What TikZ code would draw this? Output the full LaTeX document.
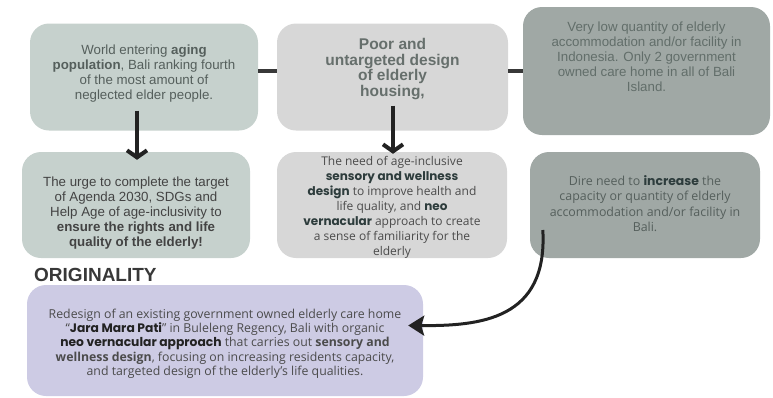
\documentclass[tikz,border=0pt]{standalone}
\usepackage{fontspec}
\setmainfont{Liberation Sans}
\newfontfamily\opensans{Open Sans}
\newfontfamily\popfont{Poppins}
\usetikzlibrary{arrows.meta,positioning,calc}

\definecolor{sage}{RGB}{198,209,205}
\definecolor{lightgrey}{RGB}{215,215,215}
\definecolor{slate}{RGB}{160,168,165}
\definecolor{lavender}{RGB}{205,203,228}
\definecolor{ink}{RGB}{34,34,34}
\definecolor{sagetext}{RGB}{85,95,92}
\definecolor{greytext}{RGB}{75,75,75}
\definecolor{slatetext}{RGB}{98,110,106}
\definecolor{darktext}{RGB}{45,60,60}

\newcommand{\wide}[1]{{\popfont\bfseries #1}}

\begin{document}
\begin{tikzpicture}[x=1pt,y=-1pt,
      every node/.style={on grid},
      sagebox/.style={fill=sage,rounded corners=19pt,inner sep=0pt},
      greybox/.style={fill=lightgrey,rounded corners=19pt,inner sep=0pt},
      slatebox/.style={fill=slate,rounded corners=19pt,inner sep=0pt},
      lavbox/.style={fill=lavender,rounded corners=19pt,inner sep=0pt},
      txt/.style={align=center,inner sep=0pt,font=\fontsize{13.3}{15}\selectfont},
      softtxt/.style={align=center,inner sep=0pt,font=\opensans\fontsize{12}{15}\selectfont},
      link/.style={draw=ink!90,line width=3.5pt},
      down/.style={draw=ink,line width=4pt,-{Straight Barb[length=7pt,width=20pt]}},
      swing/.style={draw=ink,line width=3pt,-{Stealth[length=16pt,width=20pt,inset=3pt]}}
    ]
    \useasboundingbox (0,0) rectangle (773,397);

    % top row
    \node[sagebox,minimum width=228pt,minimum height=107pt] (b1) at (144,77) {};
    \node[greybox,minimum width=231pt,minimum height=107pt,right=248.5pt of b1] (b2) {};
    \node[slatebox,minimum width=247pt,minimum height=128pt] (b3) at (646.5,71) {};

    % second row
    \node[sagebox,minimum width=228pt,minimum height=106pt] (b4) at (136,205) {};
    \node[greybox,minimum width=230pt,minimum height=106pt,right=256pt of b4] (b5) {};
    \node[slatebox,minimum width=230pt,minimum height=106pt,right=253pt of b5] (b6) {};

    % originality
    \node[anchor=west,inner sep=0pt,text=ink!90,font=\bfseries\fontsize{19}{20}\selectfont] (orig) at (34,275) {ORIGINALITY};
    \node[lavbox,minimum width=396pt,minimum height=111pt] (b7) at (225,340.5) {};

    % the texts
    \node[txt,text=sagetext] (t1) at ([yshift=3.5pt]b1.center)
      {World entering \textbf{aging}\\ \textbf{population}, Bali ranking fourth\\ of the most amount of\\ neglected elder people.};
    \node[txt,text=sagetext!90,font=\bfseries\fontsize{15.5}{15.5}\selectfont] (t2) at ([yshift=8pt]b2.center)
      {Poor and\\ untargeted design\\ of elderly\\ housing,};
    \node[txt,text=slatetext] (t3) at ([yshift=14pt]b3.center)
      {Very low quantity of elderly\\ accommodation and/or facility in\\ Indonesia. Only 2 government\\ owned care home in all of Bali\\ Island.};
    \node[txt,text=ink!85] (t4) at ([yshift=-8pt]b4.center)
      {The urge to complete the target\\ of Agenda 2030, SDGs and\\ Help Age of age-inclusivity to\\ \textbf{ensure the rights and life}\\ \textbf{quality of the elderly!}};
    \node[softtxt,text=greytext] (t5) at ([yshift=-2pt]b5.center)
      {The need of age-inclusive\\ \textcolor{darktext}{\wide{sensory and wellness}}\\ \textcolor{darktext}{\wide{design}} to improve health and\\ life quality, and \textcolor{darktext}{\wide{neo}}\\ \textcolor{darktext}{\wide{vernacular}} approach to create\\ a sense of familiarity for the\\ elderly};
    \node[softtxt,text=sagetext,font=\opensans\fontsize{12.4}{15.5}\selectfont] (t6) at ([yshift=1.5pt]b6.center)
      {Dire need to \textcolor{darktext}{\wide{increase}} the\\ capacity or quantity of elderly\\ accommodation and/or facility in\\ Bali.};
    \node[softtxt,text=greytext,font=\opensans\fontsize{12.3}{14.3}\selectfont] (t7) at ([yshift=-3pt]b7.center)
      {Redesign of an existing government owned elderly care home\\ “\textcolor{ink}{\wide{Jara Mara Pati}}” in Buleleng Regency, Bali with organic\\ \textcolor{ink}{\wide{neo vernacular approach}} that carries out \textbf{sensory and}\\ \textbf{wellness design}, focusing on increasing residents capacity,\\ and targeted design of the elderly’s life qualities.};

    % the connectors
    \draw[link] (b1.east |- b3.west) -- (b2.west |- b3.west);
    \draw[link] (b2.east |- b3.west) -- (b3.west);
    \draw[down] ($(b1.south)+(-7,-20)$) -- ($(b1.south |- b4.north)+(-7,8)$);
    \draw[down] ($(b2.south)+(0.5,-25)$) -- ($(b2.south |- b5.north)+(0.5,2)$);
    \draw[swing] ($(b6.west)+(13,25)$) .. controls (548,320) and (480,326) .. ($(b7.east)+(-15,-15)$);
    \end{tikzpicture}
\end{document}
